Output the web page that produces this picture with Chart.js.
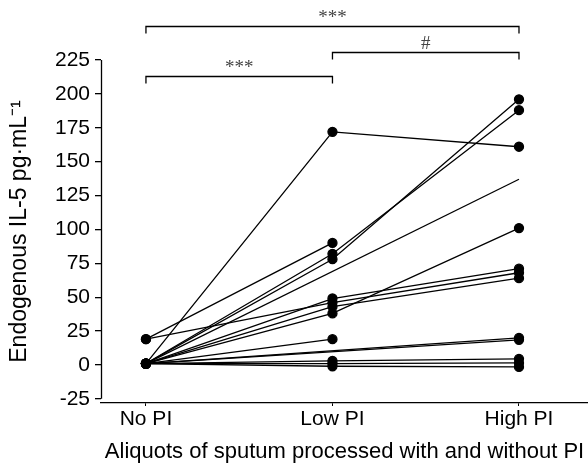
<!DOCTYPE html>
<html>
<head>
<meta charset="utf-8">
<script src="https://cdn.jsdelivr.net/npm/chart.js@4.4.0/dist/chart.umd.min.js"></script>
<style>
    html, body { margin: 0; padding: 0; background: #fff; }
    #wrap { width: 588px; height: 474px; }
</style>
</head>
<body>
<div id="wrap"><canvas id="myChart" width="588" height="474"></canvas></div>
<script>
// DATOS
const categories = ['No PI', 'Low PI', 'High PI'];
const yTicks = [-25, 0, 25, 50, 75, 100, 125, 150, 175, 200, 225];

// cada sujeto: [No PI, Low PI, High PI] (null = sin dato)
const subject1 = [1, 172, 161];
const subject2 = [19, 90, null];
const subject3 = [1, 82, 188];
const subject4 = [1, 78, 196];
const subject5 = [1, null, 137];
const subject6 = [19, 46, 68];
const subject7 = [1, 49, 71];
const subject8 = [1, 43, 64];
const subject9 = [1, 38, 101];
const subject10 = [1, 19, null];
const subject11 = [1, null, 20];
const subject12 = [1, null, 18.5];
const subject13 = [1, 3, 4.5];
const subject14 = [1, 1, 1.5];
const subject15 = [1, -1, -1.5];

const subjects = [subject1, subject2, subject3, subject4, subject5, subject6, subject7, subject8,
    subject9, subject10, subject11, subject12, subject13, subject14, subject15];

// comparaciones: [desde, hasta, nivel, texto]
const brackets = [
    [0, 2, 250, '***'],
    [1, 2, 231, '#'],
    [0, 1, 213, '***']
];

const font = 'Liberation Sans, Arial, sans-serif';

// Crear datasets
const datasets = subjects.map((values, i) => ({
    data: values.map((v, j) => ({ x: j, y: v })),
    borderColor: '#000',
    backgroundColor: '#000',
    borderWidth: 1.3,
    pointRadius: i === 4 ? [4.5, 4.5, 0] : 4.5,
    pointHoverRadius: 4.5,
    spanGaps: true,
    tension: 0
}));

// Ejes y corchetes
const extras = {
    id: 'extras',
    afterDraw(chart) {
        const ctx = chart.ctx;
        const x = chart.scales.x;
        const y = chart.scales.y;
        ctx.save();
        ctx.strokeStyle = '#000';
        ctx.lineWidth = 1.3;
        // eje y
        ctx.beginPath();
        ctx.moveTo(chart.chartArea.left + 0.5, y.getPixelForValue(225));
        ctx.lineTo(chart.chartArea.left + 0.5, y.getPixelForValue(-25));
        ctx.stroke();
        // corchetes
        brackets.forEach(([a, b, level, label]) => {
            const x1 = x.getPixelForValue(a);
            const x2 = x.getPixelForValue(b);
            const yy = Math.round(y.getPixelForValue(level)) + 0.5;
            ctx.beginPath();
            ctx.moveTo(x1, yy + 7);
            ctx.lineTo(x1, yy);
            ctx.lineTo(x2, yy);
            ctx.lineTo(x2, yy + 7);
            ctx.stroke();
            ctx.fillStyle = '#444';
            ctx.font = '19px "Liberation Serif", "Times New Roman", serif';
            ctx.textAlign = 'center';
            ctx.textBaseline = 'bottom';
            ctx.fillText(label, (x1 + x2) / 2, yy + 1);
        });
        ctx.restore();
    }
};

const ctx = document.getElementById('myChart').getContext('2d');
const myChart = new Chart(ctx, {
    type: 'line',
    data: { datasets: datasets },
    plugins: [extras],
    options: {
        responsive: false,
        animation: false,
        layout: { autoPadding: false, padding: { top: 60, right: 0, left: 0, bottom: 0 } },
        plugins: {
            legend: { display: false },
            tooltip: { enabled: false }
        },
        scales: {
            x: {
                type: 'linear',
                min: -0.241,
                max: 2.37,
                afterBuildTicks: (scale) => { scale.ticks = categories.map((c, i) => ({ value: i })); },
                afterFit: (scale) => { scale.height = 71; },
                ticks: {
                    callback: (v) => categories[v],
                    color: '#000',
                    font: { family: font, size: 21 },
                    padding: 1,
                    maxRotation: 0
                },
                grid: { drawOnChartArea: false, color: '#000', tickLength: 3 },
                border: { display: true, color: '#000', width: 1.3 },
                title: {
                    display: true,
                    text: 'Aliquots of sputum processed with and without PI',
                    color: '#000',
                    font: { family: font, size: 22 },
                    padding: { top: 0, bottom: 9 }
                }
            },
            y: {
                min: -28.1,
                max: 225,
                afterBuildTicks: (scale) => { scale.ticks = yTicks.map(v => ({ value: v })); },
                afterFit: (scale) => { scale.width = 101; },
                ticks: {
                    color: '#000',
                    font: { family: font, size: 21 },
                    padding: 5
                },
                grid: { drawOnChartArea: false, color: '#000', tickLength: 6, lineWidth: 1.3 },
                border: { display: false },
                title: {
                    display: true,
                    text: 'Endogenous IL-5 pg·mL⁻¹',
                    color: '#000',
                    font: { family: font, size: 23 },
                    padding: { top: 6, bottom: 0 }
                }
            }
        }
    }
});
</script>
</body>
</html>
